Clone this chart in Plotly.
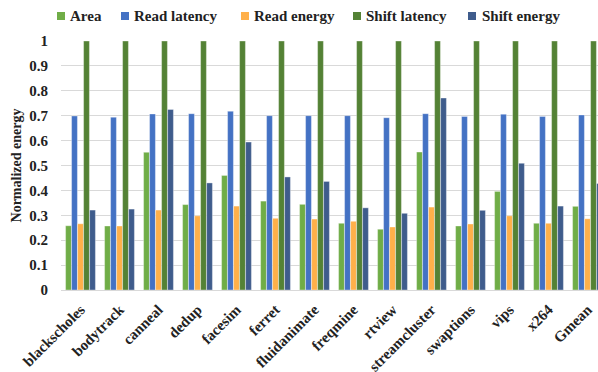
import plotly.graph_objects as go

benchmarks = ["blackscholes", "bodytrack", "canneal", "dedup", "facesim", "ferret",
              "fluidanimate", "freqmine", "rtview", "streamcluster", "swaptions",
              "vips", "x264", "Gmean"]

area = [0.258, 0.257, 0.553, 0.343, 0.46, 0.357, 0.344, 0.268, 0.244, 0.554,
        0.257, 0.396, 0.268, 0.336]
read_latency = [0.699, 0.694, 0.707, 0.708, 0.718, 0.700, 0.700, 0.700, 0.692,
                0.708, 0.697, 0.706, 0.697, 0.703]
read_energy = [0.266, 0.257, 0.321, 0.298, 0.337, 0.288, 0.285, 0.276, 0.253,
               0.333, 0.265, 0.298, 0.268, 0.286]
shift_latency = [1, 1, 1, 1, 1, 1, 1, 1, 1, 1, 1, 1, 1, 1]
shift_energy = [0.321, 0.325, 0.725, 0.43, 0.594, 0.454, 0.436, 0.33, 0.308,
                0.771, 0.32, 0.509, 0.337, 0.428]

series_names = ["Area", "Read latency", "Read energy", "Shift latency", "Shift energy"]
series_values = [area, read_latency, read_energy, shift_latency, shift_energy]
series_colors = ["#70AD47", "#4472C4", "#FFB04A", "#548235", "#3F5C8C"]

font_family = "Liberation Serif"
text_color = "#222222"

# page geometry (pixels)
width, height = 598, 372
left, top, bottom = 61, 41, 82
plot_w = width - left
plot_h = height - top - bottom
pitch = 39.0                      # pixels per category
x_end = -0.5 + plot_w / pitch     # the last group runs past the right edge

fig = go.Figure()
for name, vals, color in zip(series_names, series_values, series_colors):
    fig.add_trace(go.Bar(
        name=name, x=benchmarks, y=vals, showlegend=False,
        marker=dict(color=color, line=dict(color="rgba(255,255,255,0.6)", width=0.6)),
    ))


def px_to_paper_x(px):
    return (px - left) / plot_w


def px_to_paper_y(py):
    return (height - bottom - py) / plot_h


# legend row across the top: square swatch followed by its label
legend_marker_px = [57, 121, 241, 353, 468]
legend_text_px = [68, 132, 252, 364, 480]
legend_y_px = 16
swatch = 8
for name, color, mx, tx in zip(series_names, series_colors, legend_marker_px, legend_text_px):
    fig.add_shape(type="rect", xref="paper", yref="paper",
                  x0=px_to_paper_x(mx), x1=px_to_paper_x(mx + swatch),
                  y0=px_to_paper_y(legend_y_px + swatch / 2),
                  y1=px_to_paper_y(legend_y_px - swatch / 2),
                  fillcolor=color, line=dict(width=0))
    fig.add_annotation(text=name, xref="paper", yref="paper",
                       x=px_to_paper_x(tx), y=px_to_paper_y(legend_y_px),
                       xanchor="left", yanchor="middle", showarrow=False,
                       font=dict(family=font_family, size=15, weight="bold", color=text_color))

fig.update_layout(
    width=width, height=height,
    margin=dict(l=left, r=0, t=top, b=bottom, autoexpand=False),
    barmode="group", bargap=0.23, bargroupgap=0.03,
    plot_bgcolor="white", paper_bgcolor="white",
    font=dict(family=font_family, weight="bold", color=text_color),
    xaxis=dict(range=[-0.5, x_end], tickangle=-45, showgrid=False, automargin=False,
               showline=True, linecolor="#D9D9D9", linewidth=1,
               tickfont=dict(family=font_family, size=15, weight="bold", color=text_color),
               ticks="", ticklabelstandoff=4),
    yaxis=dict(range=[0, 1], dtick=0.1, showgrid=True, gridcolor="#D9D9D9", gridwidth=1,
               zeroline=False, automargin=False,
               tickfont=dict(family=font_family, size=15, weight="bold", color=text_color),
               ticklabelstandoff=12,
               title=dict(text="Normalized energy", standoff=4,
                          font=dict(family=font_family, size=14, weight="bold", color=text_color))),
)

fig.write_html("out.html")
